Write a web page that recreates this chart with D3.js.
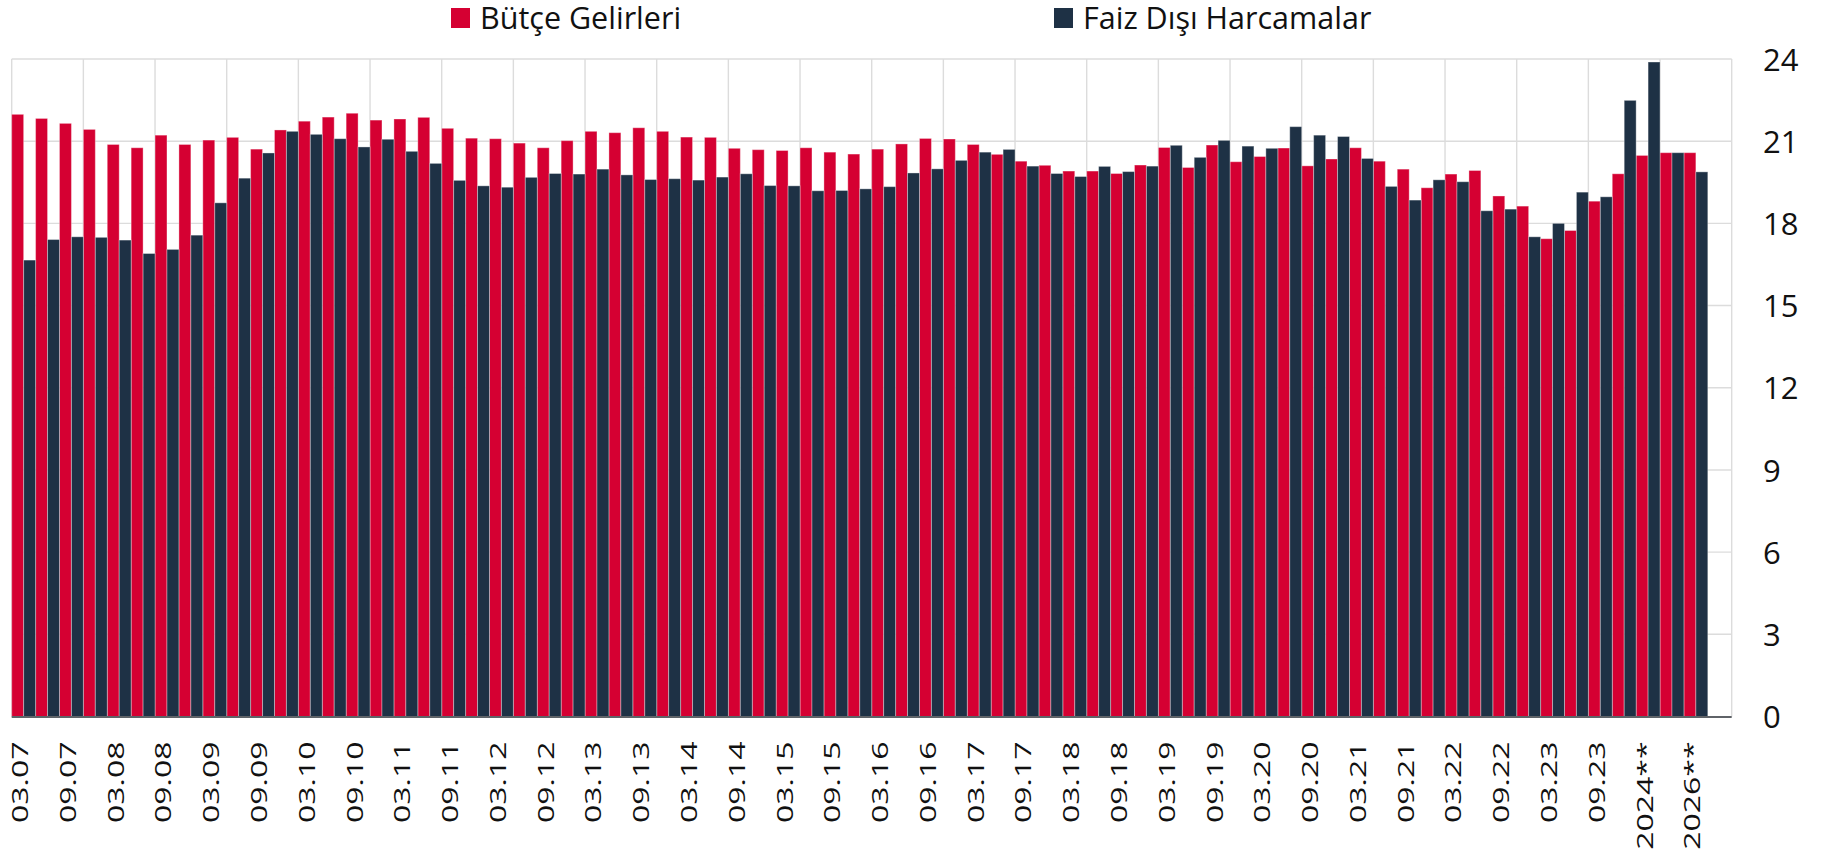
<!DOCTYPE html>
<html lang="tr">
<head>
<meta charset="utf-8">
<title>Bütçe Gelirleri ve Faiz Dışı Harcamalar</title>
<script src="https://cdn.jsdelivr.net/npm/d3@7/dist/d3.min.js"></script>
<style>
  html, body { margin: 0; padding: 0; background: #ffffff; }
  svg { display: block; font-family: "Open Sans", "Noto Sans", sans-serif; }
</style>
</head>
<body>
<svg id="chart" width="1841" height="853"></svg>
<script>
// Quarter labels (month.year) followed by programme years
const categories = [
  "03.07","06.07","09.07","12.07","03.08","06.08","09.08","12.08",
  "03.09","06.09","09.09","12.09","03.10","06.10","09.10","12.10",
  "03.11","06.11","09.11","12.11","03.12","06.12","09.12","12.12",
  "03.13","06.13","09.13","12.13","03.14","06.14","09.14","12.14",
  "03.15","06.15","09.15","12.15","03.16","06.16","09.16","12.16",
  "03.17","06.17","09.17","12.17","03.18","06.18","09.18","12.18",
  "03.19","06.19","09.19","12.19","03.20","06.20","09.20","12.20",
  "03.21","06.21","09.21","12.21","03.22","06.22","09.22","12.22",
  "03.23","06.23","09.23","12.23","2024**","2025**","2026**"
];

// Bütçe gelirleri (GSYH'ye oran, %)
const butceGelirleri = [
  21.98,21.83,21.65,21.43,20.88,20.76,21.22,20.88,
  21.04,21.14,20.71,21.41,21.73,21.88,22.02,21.77,
  21.81,21.87,21.47,21.11,21.09,20.93,20.76,21.02,
  21.36,21.31,21.49,21.36,21.15,21.14,20.74,20.69,
  20.66,20.76,20.60,20.53,20.71,20.90,21.10,21.08,
  20.88,20.52,20.27,20.12,19.91,19.91,19.82,20.13,
  20.77,20.04,20.86,20.25,20.44,20.75,20.10,20.35,
  20.76,20.27,19.98,19.30,19.80,19.93,19.00,18.63,
  17.44,17.74,18.81,19.81,20.48,20.58,20.58
];

// Faiz dışı harcamalar (GSYH'ye oran, %)
const faizDisiHarcamalar = [
  16.66,17.41,17.51,17.49,17.39,16.90,17.05,17.57,
  18.75,19.65,20.57,21.36,21.25,21.09,20.79,21.07,
  20.63,20.19,19.57,19.37,19.32,19.68,19.82,19.80,
  19.98,19.77,19.60,19.63,19.58,19.69,19.81,19.38,
  19.37,19.19,19.20,19.26,19.34,19.84,19.99,20.30,
  20.60,20.70,20.09,19.82,19.71,20.08,19.89,20.09,
  20.85,20.41,21.03,20.82,20.74,21.53,21.22,21.17,
  20.37,19.35,18.85,19.59,19.52,18.46,18.52,17.51,
  18.00,19.14,18.97,22.49,23.89,20.58,19.88
];

const yTicks = [0, 3, 6, 9, 12, 15, 18, 21, 24];

const seriesNames = ["Bütçe Gelirleri", "Faiz Dışı Harcamalar"];
const seriesColors = ["#D50032", "#1E3145"];

// ---- layout ----
const svg = d3.select("#chart");
const plot = { left: 11.7, right: 1731.7, top: 59, bottom: 716.5 };

// one spare slot keeps room after the last programme year
const slots = categories.concat([""]);

const x = d3.scaleBand()
  .domain(d3.range(slots.length))
  .range([plot.left, plot.right])
  .paddingInner(0)
  .paddingOuter(0);

const xInner = d3.scaleBand()
  .domain([0, 1])
  .range([0, x.bandwidth()])
  .padding(0);

const y = d3.scaleLinear()
  .domain([0, 24])
  .range([plot.bottom, plot.top]);

const grid = svg.append("g").attr("class", "grid");

// horizontal gridlines
grid.selectAll("line.h")
  .data(yTicks.filter(t => t > 0))
  .join("line")
  .attr("class", "h")
  .attr("x1", plot.left).attr("x2", plot.right)
  .attr("y1", d => y(d)).attr("y2", d => y(d))
  .attr("stroke", "#dcdcdc")
  .attr("stroke-width", 1.4);

// vertical gridlines every third slot, plus the right edge
const vIdx = d3.range(0, slots.length, 3);
grid.selectAll("line.v")
  .data(vIdx)
  .join("line")
  .attr("class", "v")
  .attr("x1", d => x(d)).attr("x2", d => x(d))
  .attr("y1", plot.top).attr("y2", plot.bottom)
  .attr("stroke", "#dcdcdc")
  .attr("stroke-width", 1.4);
grid.append("line")
  .attr("x1", plot.right).attr("x2", plot.right)
  .attr("y1", plot.top).attr("y2", plot.bottom)
  .attr("stroke", "#dcdcdc")
  .attr("stroke-width", 1.4);

// ---- bars ----
const seriesData = [butceGelirleri, faizDisiHarcamalar];
const barsG = svg.append("g").attr("class", "bars");
seriesData.forEach((vals, s) => {
  barsG.append("g")
    .selectAll("rect")
    .data(vals.map((v, i) => ({ i, v })))
    .join("rect")
    .attr("x", d => x(d.i) + xInner(s))
    .attr("width", xInner.bandwidth())
    .attr("y", d => y(d.v))
    .attr("height", d => y(0) - y(d.v))
    .attr("fill", seriesColors[s])
    .attr("stroke", "rgba(255,255,255,0.35)")
    .attr("stroke-width", 1);
});

// baseline
svg.append("line")
  .attr("x1", plot.left).attr("x2", plot.right)
  .attr("y1", y(0) + 0.5).attr("y2", y(0) + 0.5)
  .attr("stroke", "#5f6368")
  .attr("stroke-width", 2);

// ---- right value axis ----
const yAxis = d3.axisRight(y).tickValues(yTicks).tickSize(0).tickPadding(0);
const yAxisG = svg.append("g")
  .attr("transform", `translate(1763,0)`)
  .call(yAxis);
yAxisG.select(".domain").remove();
yAxisG.selectAll("text")
  .attr("x", 0)
  .attr("dy", "0.36em")
  .attr("text-anchor", "start")
  .attr("fill", "#111111")
  .style("font-family", "'Open Sans', sans-serif")
  .style("font-size", "31px");

// ---- category axis (every second label, rotated) ----
const xAxis = d3.axisBottom(x)
  .tickValues(d3.range(0, categories.length, 2))
  .tickFormat(i => slots[i])
  .tickSize(0);
const xAxisG = svg.append("g")
  .attr("transform", `translate(0,${plot.bottom})`)
  .call(xAxis);
xAxisG.select(".domain").remove();
xAxisG.selectAll(".tick text")
  .attr("y", 0)
  .attr("dy", 0)
  .attr("text-anchor", "end")
  .attr("transform", "translate(4.5,25) rotate(-90) scale(1.42,1)")
  .attr("fill", "#111111")
  .style("font-family", "'Open Sans', sans-serif")
  .style("font-size", "22.5px");

// ---- legend ----
const legendPos = [451, 1054];
const legend = svg.append("g").attr("class", "legend");
seriesNames.forEach((name, s) => {
  const g = legend.append("g").attr("transform", `translate(${legendPos[s]},8)`);
  g.append("rect")
    .attr("width", 19).attr("height", 20)
    .attr("fill", seriesColors[s]);
  g.append("text")
    .attr("x", 29).attr("y", 20.5)
    .attr("fill", "#111111")
    .style("font-family", "'Open Sans', sans-serif")
    .style("font-size", "30.5px")
    .text(name);
});
</script>
</body>
</html>
